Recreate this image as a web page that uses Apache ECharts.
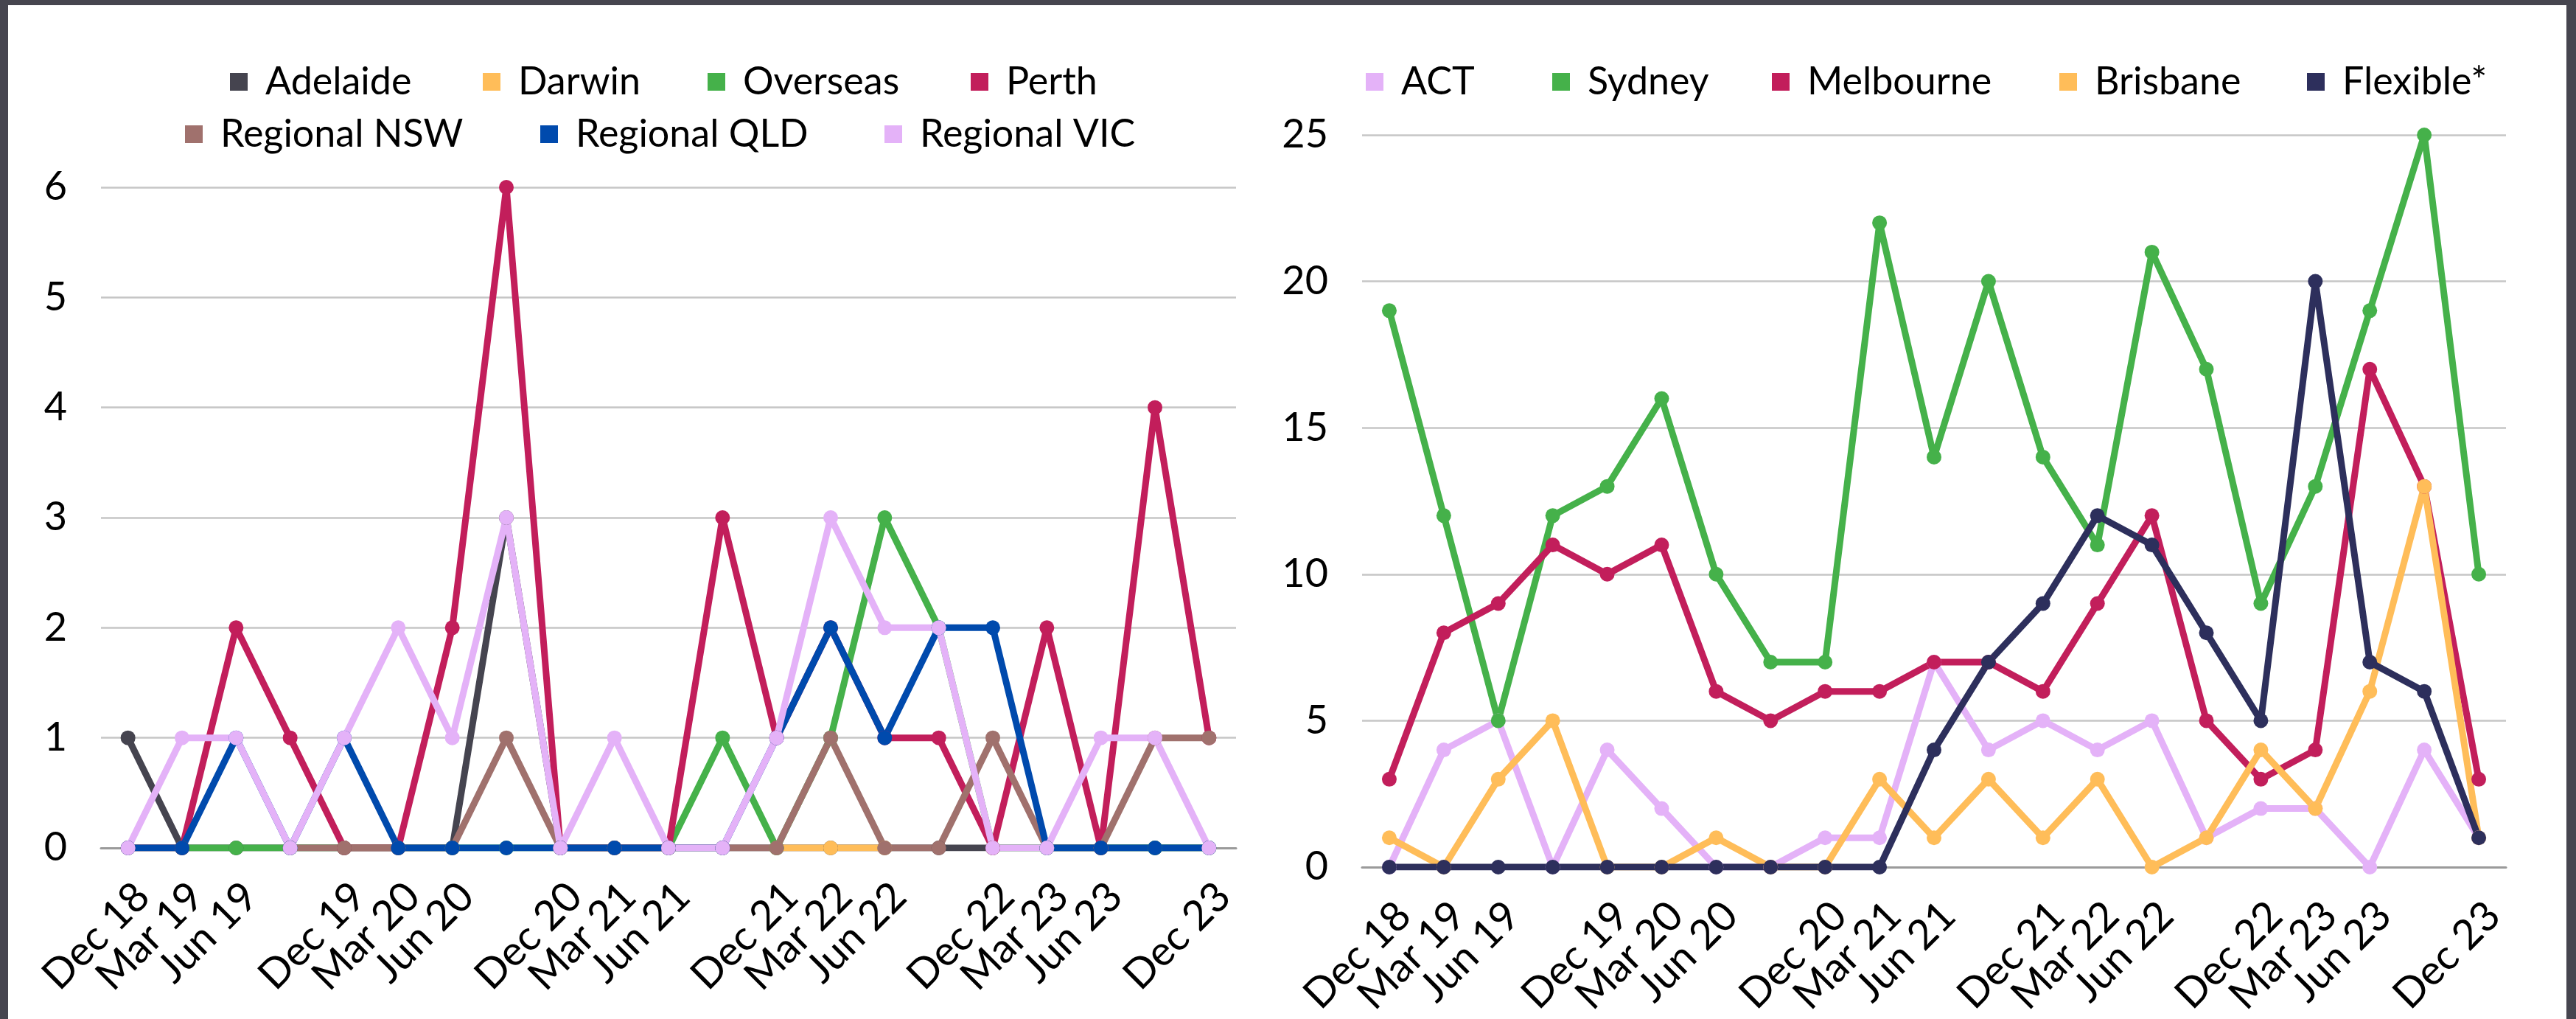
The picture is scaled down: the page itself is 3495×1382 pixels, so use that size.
<!DOCTYPE html>
<html>
<head>
<meta charset="utf-8">
<script src="https://cdn.jsdelivr.net/npm/echarts@6/dist/echarts.min.js"></script>
<style>
  html, body { margin: 0; padding: 0; background: #ffffff; }
  #chart { width: 3495px; height: 1382px; }
</style>
</head>
<body>
<div id="chart"></div>
<script>
// Quarter-end categories shared by both panels (September labels are not printed)
const quarters = [
  'Dec 18', 'Mar 19', 'Jun 19', 'Sep 19', 'Dec 19', 'Mar 20', 'Jun 20', 'Sep 20',
  'Dec 20', 'Mar 21', 'Jun 21', 'Sep 21', 'Dec 21', 'Mar 22', 'Jun 22', 'Sep 22',
  'Dec 22', 'Mar 23', 'Jun 23', 'Sep 23', 'Dec 23'
];

// Left panel: smaller locations
const adelaide    = [1, 0, 0, 0, 0, 0, 0, 3, 0, 0, 0, 0, 0, 0, 0, 0, 0, 0, 0, 0, 0];
const darwin      = [null, null, null, null, null, null, null, null, null, null, null, null, 0, 0, 0, null, null, null, null, null, null];
const overseas    = [0, 0, 0, 0, 0, 0, 0, 0, 0, 0, 0, 1, 0, 1, 3, 2, 0, 0, 0, 0, 0];
const perth       = [0, 0, 2, 1, 0, 0, 2, 6, 0, 0, 0, 3, 1, 2, 1, 1, 0, 2, 0, 4, 1];
const regionalNSW = [null, null, null, 0, 0, 0, 0, 1, 0, 0, 0, 0, 0, 1, 0, 0, 1, 0, 0, 1, 1];
const regionalQLD = [0, 0, 1, 0, 1, 0, 0, 0, 0, 0, 0, 0, 1, 2, 1, 2, 2, 0, 0, 0, 0];
const regionalVIC = [0, 1, 1, 0, 1, 2, 1, 3, 0, 1, 0, 0, 1, 3, 2, 2, 0, 0, 1, 1, 0];

// Right panel: main locations
const act       = [0, 4, 5, 0, 4, 2, 0, 0, 1, 1, 7, 4, 5, 4, 5, 1, 2, 2, 0, 4, 1];
const sydney    = [19, 12, 5, 12, 13, 16, 10, 7, 7, 22, 14, 20, 14, 11, 21, 17, 9, 13, 19, 25, 10];
const melbourne = [3, 8, 9, 11, 10, 11, 6, 5, 6, 6, 7, 7, 6, 9, 12, 5, 3, 4, 17, 13, 3];
const brisbane  = [1, 0, 3, 5, 0, 0, 1, 0, 0, 3, 1, 3, 1, 3, 0, 1, 4, 2, 6, 13, 1];
const flexible  = [0, 0, 0, 0, 0, 0, 0, 0, 0, 0, 4, 7, 9, 12, 11, 8, 5, 20, 7, 6, 1];

// Y-axis ranges
const leftMax = 6, leftStep = 1;
const rightMax = 25, rightStep = 5;

const FONT = 'Lato, "Open Sans", sans-serif';
const LEGEND_SIZE = 52, AXIS_SIZE = 54, TICK_SIZE = 56;

// Series styling plus where each legend entry sits (x of its swatch, legend row)
const leftSeries = [
  { name: 'Adelaide',     data: adelaide,    color: '#45444f', x: 312,  row: 0 },
  { name: 'Darwin',       data: darwin,      color: '#ffbd59', x: 655,  row: 0 },
  { name: 'Overseas',     data: overseas,    color: '#45b14a', x: 960,  row: 0 },
  { name: 'Perth',        data: perth,       color: '#c21e5b', x: 1317, row: 0 },
  { name: 'Regional NSW', data: regionalNSW, color: '#a0716d', x: 251,  row: 1 },
  { name: 'Regional QLD', data: regionalQLD, color: '#004aad', x: 733,  row: 1 },
  { name: 'Regional VIC', data: regionalVIC, color: '#e4b2f8', x: 1200, row: 1 }
];
const rightSeries = [
  { name: 'ACT',       data: act,       color: '#e4b2f8', x: 1853, row: 0 },
  { name: 'Sydney',    data: sydney,    color: '#45b14a', x: 2106, row: 0 },
  { name: 'Melbourne', data: melbourne, color: '#c21e5b', x: 2404, row: 0 },
  { name: 'Brisbane',  data: brisbane,  color: '#ffbd59', x: 2794, row: 0 },
  { name: 'Flexible*', data: flexible,  color: '#2d2f5c', x: 3130, row: 0 }
];

function lineSeries(s, axisIndex) {
  return {
    type: 'line',
    name: s.name,
    data: s.data,
    xAxisIndex: axisIndex,
    yAxisIndex: axisIndex,
    color: s.color,
    symbol: 'circle',
    symbolSize: 20,
    showAllSymbol: true,
    connectNulls: false,
    lineStyle: { width: 9, color: s.color },
    itemStyle: { color: s.color },
    emphasis: { disabled: true }
  };
}

function xAxis(gridIndex) {
  return {
    type: 'category',
    gridIndex: gridIndex,
    data: quarters,
    boundaryGap: true,
    axisTick: { show: false },
    axisLine: { show: true, lineStyle: { color: '#9a9a9a', width: 3 } },
    axisLabel: {
      rotate: 45,
      interval: 0,
      // September quarters keep their slot but print no label
      formatter: v => (v.startsWith('Sep') ? '' : v),
      hideOverlap: false,
      fontFamily: FONT,
      fontSize: TICK_SIZE,
      color: '#000',
      verticalAlign: 'top',
      lineHeight: 56,
      margin: 37
    }
  };
}

function yAxis(gridIndex, max, step) {
  return {
    type: 'value',
    gridIndex: gridIndex,
    min: 0,
    max: max,
    interval: step,
    axisLine: { show: false },
    axisTick: { show: false },
    splitLine: { lineStyle: { color: '#c6c6c6', width: 2.5 } },
    axisLabel: { fontFamily: FONT, fontSize: AXIS_SIZE, color: '#000', margin: 46 }
  };
}

// One legend component per entry so each swatch sits at its own spot
function legendItem(s) {
  return {
    data: [s.name],
    left: s.x - 5,
    top: s.row === 0 ? 80 : 151,
    icon: 'rect',
    itemWidth: 24,
    itemHeight: 24,
    selectedMode: false,
    textStyle: { fontFamily: FONT, fontSize: LEGEND_SIZE, color: '#000', padding: [0, 0, 0, 19] }
  };
}

const chart = echarts.init(document.getElementById('chart'), null, { renderer: 'canvas' });
chart.setOption({
  animation: false,
  backgroundColor: '#ffffff',
  grid: [
    { left: 137, right: 3495 - 1677, top: 254, bottom: 1382 - 1150 },
    { left: 1848, right: 3495 - 3400, top: 183, bottom: 1382 - 1176 }
  ],
  xAxis: [xAxis(0), xAxis(1)],
  yAxis: [yAxis(0, leftMax, leftStep), yAxis(1, rightMax, rightStep)],
  legend: leftSeries.concat(rightSeries).map(legendItem),
  series: leftSeries.map(s => lineSeries(s, 0)).concat(rightSeries.map(s => lineSeries(s, 1))),
  graphic: [
    // dark frame along the top and both sides
    { type: 'rect', left: 0, top: 0, shape: { width: 3495, height: 7 }, style: { fill: '#46454f' }, z: 100 },
    { type: 'rect', left: 0, top: 0, shape: { width: 11, height: 1382 }, style: { fill: '#46454f' }, z: 100 },
    { type: 'rect', left: 3482, top: 0, shape: { width: 13, height: 1382 }, style: { fill: '#46454f' }, z: 100 }
  ]
});
</script>
</body>
</html>
